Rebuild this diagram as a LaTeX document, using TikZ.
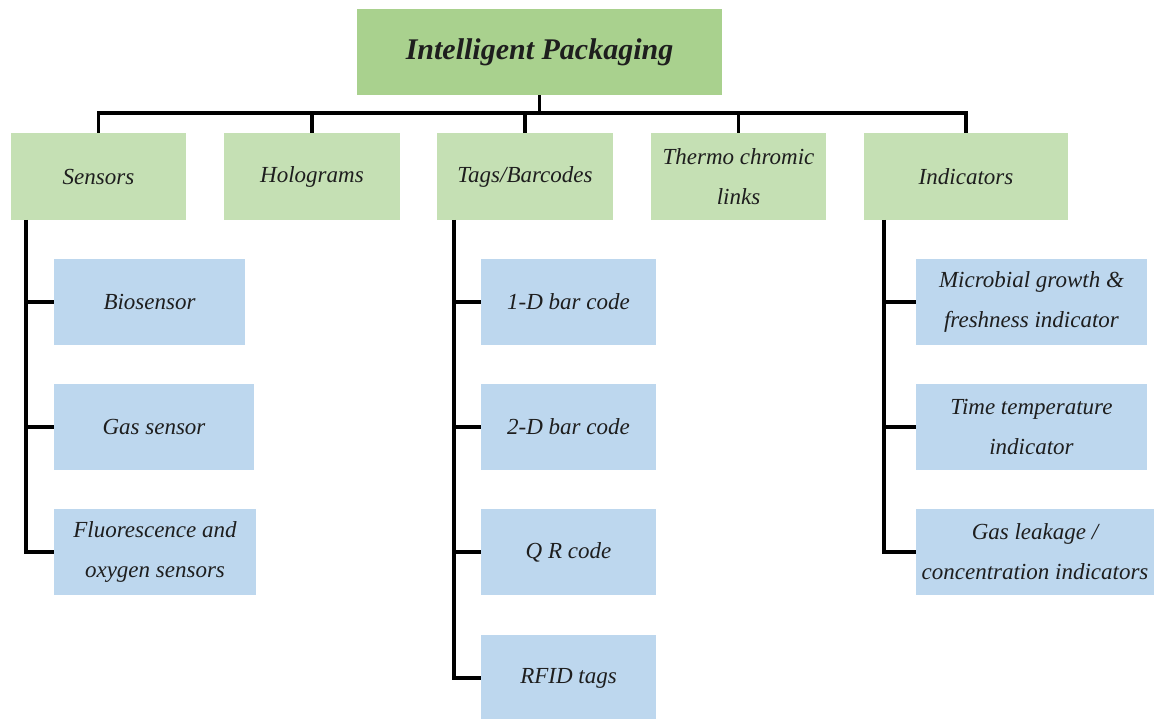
\documentclass[tikz,border=0pt]{standalone}
\usepackage{fontspec}
\setmainfont{Liberation Serif}
\definecolor{rootgreen}{HTML}{A9D18E}
\definecolor{catgreen}{HTML}{C5E0B4}
\definecolor{itemblue}{HTML}{BDD7EE}
\definecolor{inkdark}{HTML}{1E1E1E}
\tikzset{
  box/.style={inner sep=0pt, align=center, text=inkdark,
    font=\fontsize{23}{40}\selectfont\itshape},
  rootbox/.style={box, fill=rootgreen, minimum width=365pt, minimum height=86pt,
    font=\fontsize{30}{34}\selectfont\bfseries\itshape},
  catbox/.style={box, fill=catgreen, minimum height=87pt},
  itembox/.style={box, fill=itemblue, minimum height=86pt},
  link/.style={line width=3.3pt, black, line join=miter}
}
\begin{document}
\begin{tikzpicture}[x=1pt, y=1pt]
\useasboundingbox (0,0) rectangle (1161,-719);

% root
\node[rootbox] (root) at (539.5,-52) {Intelligent Packaging};

% categories
\node[catbox, minimum width=175pt] (sensors) at (98.5,-176.5) {Sensors};
\node[catbox, minimum width=176pt] (holo) at (312,-176.5) {Holograms};
\node[catbox, minimum width=176pt] (tags) at (525,-176.5) {Tags/Barcodes};
\node[catbox, minimum width=175pt] (thermo) at (738.5,-176.5) {Thermo chromic\\links};
\node[catbox, minimum width=204pt] (indic) at (966,-176.5) {Indicators};

% sensor items
\node[itembox, minimum width=191pt] (bio) at (149.5,-302) {Biosensor};
\node[itembox, minimum width=200pt] (gas) at (154,-427) {Gas sensor};
\node[itembox, minimum width=202pt] (fluor) at (155,-552) {Fluorescence and\\oxygen sensors};

% tag items
\node[itembox, minimum width=175pt] (oned) at (568.5,-302) {1-D bar code};
\node[itembox, minimum width=175pt] (twod) at (568.5,-427) {2-D bar code};
\node[itembox, minimum width=175pt] (qr) at (568.5,-552) {Q R code};
\node[itembox, minimum width=175pt] (rfid) at (568.5,-678) {RFID tags};

% indicator items
\node[itembox, minimum width=231pt] (micro) at (1031.5,-302) {Microbial growth \&\\freshness indicator};
\node[itembox, minimum width=231pt] (ttemp) at (1031.5,-427) {Time temperature\\indicator};
\node[itembox, minimum width=238pt] (leak) at (1035,-552) {Gas leakage /\\concentration indicators};

% bus from the root to the categories
\coordinate (bus) at (539.5,-113);
\draw[link] (root.south) -- (bus);
\draw[link] (sensors.north) -- (sensors.north |- bus) -- (indic.north |- bus) -- (indic.north);
\draw[link] (holo.north) -- (holo.north |- bus);
\draw[link] (tags.north) -- (tags.north |- bus);
\draw[link] (thermo.north) -- (thermo.north |- bus);

% spines
\coordinate (sspine) at (26,-220);
\coordinate (tspine) at (454,-220);
\coordinate (ispine) at (884,-220);

\draw[link] (sspine) |- (fluor.west);
\draw[link] (bio.west) -- (bio.west -| sspine);
\draw[link] (gas.west) -- (gas.west -| sspine);

\draw[link] (tspine) |- (rfid.west);
\draw[link] (oned.west) -- (oned.west -| tspine);
\draw[link] (twod.west) -- (twod.west -| tspine);
\draw[link] (qr.west) -- (qr.west -| tspine);

\draw[link] (ispine) |- (leak.west);
\draw[link] (micro.west) -- (micro.west -| ispine);
\draw[link] (ttemp.west) -- (ttemp.west -| ispine);
\end{tikzpicture}
\end{document}
